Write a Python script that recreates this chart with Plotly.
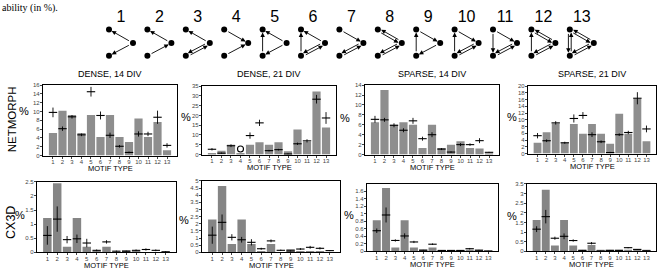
import plotly.graph_objects as go

W, H = 664, 269

# ---------------- data ----------------
motif_types = list(range(1, 14))
motif_labels = [str(i) for i in motif_types]

# motif edges: (from, to); "<>" = reciprocal
motif_edges = {
    1: [("R", "T"), ("R", "B")],
    2: [("R", "T"), ("B", "R")],
    3: [("R", "T"), ("B", "R", "<>")],
    4: [("T", "R"), ("B", "R")],
    5: [("R", "T"), ("R", "B"), ("B", "T")],
    6: [("R", "T"), ("B", "R", "<>"), ("B", "T")],
    7: [("T", "R"), ("B", "R", "<>")],
    8: [("T", "R", "<>"), ("B", "R", "<>")],
    9: [("T", "R"), ("R", "B"), ("B", "T")],
    10: [("T", "R"), ("B", "R", "<>"), ("B", "T")],
    11: [("T", "R"), ("B", "R", "<>"), ("T", "B")],
    12: [("T", "R", "<>"), ("B", "R", "<>"), ("B", "T")],
    13: [("T", "R", "<>"), ("B", "R", "<>"), ("T", "B", "<>")],
}

titles = ["DENSE, 14 DIV", "DENSE, 21 DIV", "SPARSE, 14 DIV", "SPARSE, 21 DIV"]
row_labels = ["NETMORPH", "CX3D"]

# NETMORPH row (bars = experimental, markers = model mean, err = spread)
dense14_bar = [5.1, 10.2, 9.2, 5.1, 9.2, 4.2, 9.2, 4.2, 3.1, 8.4, 4.2, 7.6, 1.2]
dense14_mean = [9.8, 6.1, 8.8, 4.7, 14.5, 9.1, 4.6, 2.1, 0.7, 4.9, 4.9, 8.7, 2.3]
dense14_err = [1.1, 0.5, 0.4, 0.3, 1.1, 0.9, 0.6, 0.3, 0.2, 0.6, 0.5, 1.5, 0.5]

dense21_bar = [0.5, 2.0, 5.0, 0.8, 5.0, 6.3, 5.0, 6.3, 1.7, 12.8, 6.5, 32.2, 13.8]
dense21_mean = [2.7, 0.7, 4.5, 2.8, 9.7, 16.2, 2.0, 2.5, 0.3, 5.5, 7.0, 28.3, 18.7]
dense21_err = [0.6, 0.3, 0.7, 0.0, 1.6, 1.6, 0.4, 0.4, 0.3, 0.6, 0.8, 2.2, 3.0]

sparse14_bar = [6.5, 13.0, 6.0, 6.5, 6.0, 1.3, 6.0, 1.3, 2.0, 2.7, 1.3, 1.2, 0.1]
sparse14_mean = [7.1, 7.0, 5.9, 4.9, 6.8, 3.2, 4.0, 1.1, 0.5, 2.0, 2.0, 2.8, 0.45]
sparse14_err = [0.7, 0.4, 0.4, 0.4, 0.6, 0.4, 0.5, 0.2, 0.15, 0.3, 0.25, 0.5, 0.1]

sparse21_bar = [3.2, 6.3, 8.9, 3.2, 8.75, 5.9, 8.75, 5.9, 2.9, 11.8, 5.9, 16.2, 3.65]
sparse21_mean = [5.3, 3.8, 9.1, 3.2, 10.4, 11.3, 5.6, 3.5, 0.3, 5.6, 6.25, 16.4, 7.3]
sparse21_err = [0.8, 0.4, 0.5, 0.3, 1.2, 1.0, 0.7, 0.4, 0.2, 0.4, 0.5, 1.8, 1.0]

# CX3D row
cx_dense14_bar = [1.22, 2.45, 0.2, 1.22, 0.2, 0.02, 0.2, 0.01, 0.07, 0.02, 0.01, 0.01, 0.005]
cx_dense14_mean = [0.6, 1.18, 0.45, 0.48, 0.33, 0.07, 0.37, 0.04, 0.04, 0.07, 0.1, 0.07, 0.02]
cx_dense14_err = [0.33, 0.45, 0.13, 0.15, 0.15, 0.03, 0.06, 0.02, 0.02, 0.03, 0.04, 0.03, 0.02]

cx_dense21_bar = [2.3, 4.65, 0.58, 2.3, 0.58, 0.03, 0.58, 0.02, 0.23, 0.1, 0.03, 0.03, 0.02]
cx_dense21_mean = [1.2, 2.1, 1.05, 0.88, 0.7, 0.25, 0.8, 0.14, 0.1, 0.23, 0.35, 0.28, 0.12]
cx_dense21_err = [0.6, 0.55, 0.22, 0.2, 0.22, 0.07, 0.1, 0.05, 0.04, 0.07, 0.1, 0.08, 0.04]

cx_sparse14_bar = [0.83, 1.69, 0.1, 0.83, 0.1, 0.05, 0.1, 0.02, 0.03, 0.04, 0.02, 0.04, 0.01]
cx_sparse14_mean = [0.55, 0.97, 0.29, 0.41, 0.25, 0.03, 0.19, 0.02, 0.02, 0.02, 0.07, 0.03, 0.01]
cx_sparse14_err = [0.06, 0.2, 0.03, 0.07, 0.03, 0.01, 0.02, 0.01, 0.01, 0.01, 0.02, 0.01, 0.005]

cx_sparse21_bar = [1.62, 3.2, 0.3, 1.62, 0.3, 0.08, 0.33, 0.05, 0.08, 0.08, 0.05, 0.08, 0.03]
cx_sparse21_mean = [1.15, 1.8, 0.68, 0.78, 0.56, 0.05, 0.42, 0.02, 0.05, 0.05, 0.19, 0.1, 0.03]
cx_sparse21_err = [0.15, 0.35, 0.08, 0.15, 0.06, 0.02, 0.06, 0.01, 0.02, 0.02, 0.03, 0.02, 0.01]

y_ticks = [
    [0, 2, 4, 6, 8, 10, 12, 14, 16],
    [0, 5, 10, 15, 20, 25, 30, 35],
    [0, 2, 4, 6, 8, 10, 12, 14],
    [0, 2, 4, 6, 8, 10, 12, 14, 16, 18, 20],
    [0, 0.5, 1, 1.5, 2, 2.5],
    [0, 0.5, 1, 1.5, 2, 2.5, 3, 3.5, 4, 4.5, 5],
    [0, 0.2, 0.4, 0.6, 0.8, 1, 1.2, 1.4, 1.6],
    [0, 0.5, 1, 1.5, 2, 2.5, 3, 3.5],
]
y_max = [16, 35, 14, 20, 2.5, 5, 1.8, 3.5]

panels_data = [
    (dense14_bar, dense14_mean, dense14_err),
    (dense21_bar, dense21_mean, dense21_err),
    (sparse14_bar, sparse14_mean, sparse14_err),
    (sparse21_bar, sparse21_mean, sparse21_err),
    (cx_dense14_bar, cx_dense14_mean, cx_dense14_err),
    (cx_dense21_bar, cx_dense21_mean, cx_dense21_err),
    (cx_sparse14_bar, cx_sparse14_mean, cx_sparse14_err),
    (cx_sparse21_bar, cx_sparse21_mean, cx_sparse21_err),
]

# ---------------- layout (pixel boxes) ----------------
boxes = [
    (43, 177, 84, 156), (202, 336, 85, 155), (365, 499, 84, 155), (528, 656, 85, 154),
    (37, 176, 183, 255), (202, 340, 182, 255), (367, 498, 185, 254), (527, 656, 185, 254),
]
pct_pos = [(24, 110), (186, 117), (345, 118), (512, 117),
           (20, 217), (184, 222), (349, 217), (512, 218)]


def fx(x):
    return x / W


def fy(y):
    return 1 - y / H


def axid(k):
    return "" if k == 1 else str(k)


fig = go.Figure()
layout = dict(
    width=W, height=H, margin=dict(l=0, r=0, t=0, b=0),
    paper_bgcolor="white", plot_bgcolor="rgba(0,0,0,0)", showlegend=False,
    font=dict(family="Liberation Sans, Arial, sans-serif", color="black"),
)
annotations = []

for k, ((bar, mean, err), (x0, x1, y0, y1)) in enumerate(zip(panels_data, boxes), start=1):
    xa, ya = "x" + axid(k), "y" + axid(k)
    bar_color = "#8e8e8e" if k <= 4 else "#858585"
    fig.add_trace(go.Bar(x=motif_types, y=bar, marker=dict(color=bar_color, line=dict(width=0)),
                         width=0.86, xaxis=xa, yaxis=ya))
    symbols = ["line-ew"] * len(mean)
    if k == 2:
        symbols[3] = "circle-open"
    fig.add_trace(go.Scatter(
        x=motif_types, y=mean, mode="markers", xaxis=xa, yaxis=ya,
        marker=dict(symbol=symbols, size=6, color="black", line=dict(color="black", width=1.1)),
        error_y=dict(type="data", array=err, visible=True, color="black", thickness=0.9, width=0),
        cliponaxis=False,
    ))
    layout["xaxis" + axid(k)] = dict(
        domain=[fx(x0), fx(x1)], anchor=ya, range=[-0.05, 14.05], tickangle=0,
        tickvals=motif_types, ticktext=motif_labels, ticks="outside", ticklen=2, tickwidth=0.8,
        tickcolor="#444", tickfont=dict(size=6, color="#444"), ticklabelstandoff=-2,
        showline=True, linecolor="black", linewidth=1.3, mirror=True, showgrid=False, zeroline=False,
    )
    layout["yaxis" + axid(k)] = dict(
        domain=[fy(y1), fy(y0)], anchor=xa, range=[0, y_max[k - 1]], tickangle=0,
        tickvals=y_ticks[k - 1], ticks="outside", ticklen=2, tickwidth=0.8, tickcolor="#444",
        tickfont=dict(size=6, color="#444"), ticklabelstandoff=-1,
        showline=True, linecolor="black", linewidth=1.3, mirror=True, showgrid=False, zeroline=False,
    )
    annotations.append(dict(text="MOTIF TYPE", x=fx((x0 + x1) / 2), y=fy(y1 + 13), xref="paper", yref="paper",
                            showarrow=False, font=dict(size=7.5), xanchor="center", yanchor="middle"))
    px_, py_ = pct_pos[k - 1]
    annotations.append(dict(text="%", x=fx(px_), y=fy(py_), xref="paper", yref="paper",
                            showarrow=False, font=dict(size=11), xanchor="center", yanchor="middle"))
    if k <= 4:
        annotations.append(dict(text=titles[k - 1], x=fx((x0 + x1) / 2), y=fy(73), xref="paper", yref="paper",
                                showarrow=False, font=dict(size=9), xanchor="center", yanchor="middle"))

annotations.append(dict(text=row_labels[0], x=fx(12), y=fy(119), xref="paper", yref="paper", textangle=-90,
                        showarrow=False, font=dict(size=11.5), xanchor="center", yanchor="middle"))
annotations.append(dict(text=row_labels[1], x=fx(11), y=fy(225), xref="paper", yref="paper", textangle=-90,
                        showarrow=False, font=dict(size=12.5), xanchor="center", yanchor="middle"))
annotations.append(dict(text="ability (in %).", x=0, y=fy(5), xref="paper", yref="paper",
                        showarrow=False, font=dict(size=10, family="Liberation Serif, serif"),
                        xanchor="left", yanchor="middle"))

# ---------------- motif diagrams (hidden axis in px-like units) ----------------
c1, step = 121, 38.4  # px centre of motif 1 and spacing
layout["xaxis9"] = dict(domain=[0, 1], anchor="y9", range=[1 - c1 / step, 1 + (W - c1) / step], visible=False)
layout["yaxis9"] = dict(domain=[0, 1], anchor="x9", range=[H, 0], visible=False)
half = 12 / step
node_off = {"T": (-half, 27), "R": (half, 41), "B": (-half, 54)}

nx, ny = [], []
for m in motif_types:
    for n in ("T", "R", "B"):
        nx.append(m + node_off[n][0])
        ny.append(node_off[n][1])
fig.add_trace(go.Scatter(x=nx, y=ny, mode="markers", xaxis="x9", yaxis="y9",
                         marker=dict(size=6, color="black"), cliponaxis=False))
fig.add_trace(go.Scatter(x=motif_types, y=[15] * 13, mode="text", text=motif_labels, xaxis="x9", yaxis="y9",
                         textfont=dict(size=16, color="black"), cliponaxis=False))


def arrow(m, a, b, shift=0.0):
    ax_, ay_ = m + node_off[a][0], node_off[a][1]
    bx_, by_ = m + node_off[b][0], node_off[b][1]
    dxp, dyp = (bx_ - ax_) * step, by_ - ay_
    L = (dxp ** 2 + dyp ** 2) ** 0.5
    ox, oy = -dyp / L * shift, dxp / L * shift
    annotations.append(dict(
        x=bx_ + ox / step, y=by_ + oy, ax=ax_ + ox / step, ay=ay_ + oy,
        xref="x9", yref="y9", axref="x9", ayref="y9", text="", showarrow=True,
        arrowhead=2, arrowsize=1, arrowwidth=0.9, arrowcolor="black", standoff=3, startstandoff=3,
    ))


for m, edges in motif_edges.items():
    for e in edges:
        if len(e) == 3:
            arrow(m, e[0], e[1], 1.4)
            arrow(m, e[1], e[0], 1.4)
        else:
            arrow(m, e[0], e[1])

layout["annotations"] = annotations
fig.update_layout(**layout)
fig.write_html("out.html")
